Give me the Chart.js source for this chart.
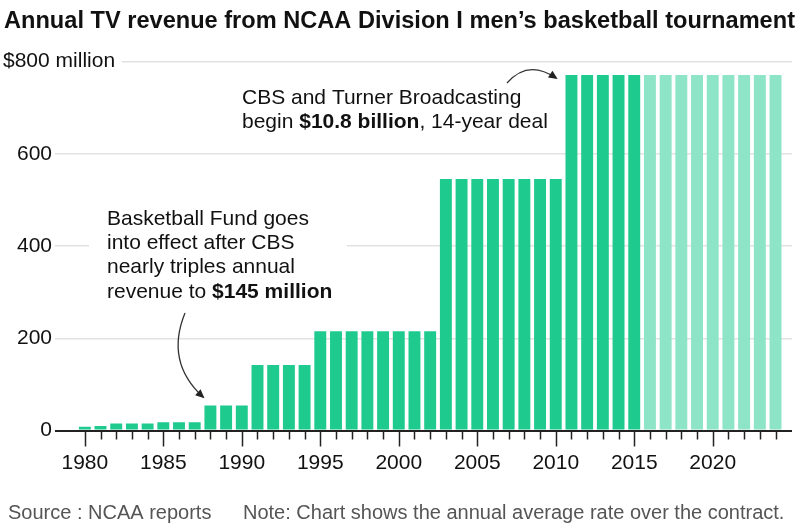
<!DOCTYPE html>
<html lang="en">
<head>
  <meta charset="UTF-8" />
  <title>Annual TV revenue from NCAA Division I men's basketball tournament</title>
  <script src="https://cdn.jsdelivr.net/npm/chart.js"></script>
  <style>
    html, body { margin: 0; padding: 0; background: #fff; }
    #wrap { position: relative; width: 800px; height: 532px; }
  </style>
</head>
<body>
  <div id="wrap"><canvas id="revenueChart"></canvas></div>

  <script>
    // data (millions of dollars per year, contract average)
    const years = [1980, 1981, 1982, 1983, 1984, 1985, 1986, 1987, 1988, 1989,
                   1990, 1991, 1992, 1993, 1994, 1995, 1996, 1997, 1998, 1999,
                   2000, 2001, 2002, 2003, 2004, 2005, 2006, 2007, 2008, 2009,
                   2010, 2011, 2012, 2013, 2014, 2015, 2016, 2017, 2018, 2019,
                   2020, 2021, 2022, 2023, 2024];
    const revenue = [8, 10, 15, 15, 15, 18, 18, 18, 54, 54,
                     54, 142, 142, 142, 142, 215, 215, 215, 215, 215,
                     215, 215, 215, 545, 545, 545, 545, 545, 545, 545,
                     545, 771, 771, 771, 771, 771, 771, 771, 771, 771,
                     771, 771, 771, 771, 771];
    const firstProjectedYear = 2016;
    const xTickLabels = [1980, 1985, 1990, 1995, 2000, 2005, 2010, 2015, 2020];
    const yTickValues = [0, 200, 400, 600, 800];

    const SOLID = '#1fca8f';
    const LIGHT = '#8ee4c6';
    const FONT = '"Liberation Sans", Arial, sans-serif';

    function drawRuns(ctx, runs, x, y, size) {
      runs.forEach(r => {
        ctx.font = (r.bold ? 'bold ' : '') + size + 'px ' + FONT;
        ctx.fillText(r.text, x, y);
        x += ctx.measureText(r.text).width;
      });
    }

    function arrow(ctx, p0, c, p2) {
      ctx.beginPath();
      ctx.moveTo(p0[0], p0[1]);
      ctx.quadraticCurveTo(c[0], c[1], p2[0], p2[1]);
      ctx.strokeStyle = '#333';
      ctx.lineWidth = 1.3;
      ctx.stroke();
      const ang = Math.atan2(p2[1] - c[1], p2[0] - c[0]);
      ctx.save();
      ctx.translate(p2[0], p2[1]);
      ctx.rotate(ang);
      ctx.beginPath();
      ctx.moveTo(2, 0);
      ctx.lineTo(-7, -4);
      ctx.lineTo(-7, 4);
      ctx.closePath();
      ctx.fillStyle = '#222';
      ctx.fill();
      ctx.restore();
    }

    const extras = {
      id: 'extras',
      afterDraw(chart) {
        const ctx = chart.ctx;
        const xs = chart.scales.x;
        const ys = chart.scales.y;
        const y0 = ys.getPixelForValue(0);
        ctx.save();

        // year tick marks under the axis
        ctx.strokeStyle = '#222';
        ctx.lineWidth = 1.5;
        years.forEach(yr => {
          const px = Math.round(xs.getPixelForValue(yr)) + 0.5;
          ctx.beginPath();
          ctx.moveTo(px, y0 + 1);
          ctx.lineTo(px, y0 + (yr % 5 === 0 ? 16 : 9));
          ctx.stroke();
        });

        // title, squeezed to the reference width
        const title = 'Annual TV revenue from NCAA Division I men\u2019s basketball tournament';
        ctx.fillStyle = '#111';
        ctx.textAlign = 'left';
        ctx.textBaseline = 'alphabetic';
        ctx.font = 'bold 23px "Liberation Sans Narrow", ' + FONT;
        const tw = ctx.measureText(title).width;
        ctx.save();
        ctx.translate(4, 28);
        ctx.scale(791 / tw, 1);
        ctx.fillText(title, 0, 0);
        ctx.restore();

        // top y label
        const y800 = ys.getPixelForValue(800);
        ctx.fillStyle = '#fff';
        ctx.fillRect(xs.left - 2, y800 - 3, 124 - xs.left, 6);
        ctx.fillStyle = '#111';
        ctx.font = '21px ' + FONT;
        ctx.textBaseline = 'middle';
        ctx.fillText('$800 million', 3, y800);
        ctx.textBaseline = 'alphabetic';

        // annotation: 2011 contract
        ctx.fillStyle = '#111';
        drawRuns(ctx, [{ text: 'CBS and Turner Broadcasting' }], 242, 104, 21);
        drawRuns(ctx, [{ text: 'begin ' }, { text: '$10.8 billion', bold: true },
                       { text: ', 14-year deal' }], 242, 128, 21);
        arrow(ctx, [507, 83], [528, 59], [556, 78]);

        // annotation: basketball fund
        ctx.fillStyle = '#fff';
        ctx.fillRect(89, 205, 258, 100);
        ctx.fillStyle = '#111';
        drawRuns(ctx, [{ text: 'Basketball Fund goes' }], 107, 225, 21);
        drawRuns(ctx, [{ text: 'into effect after CBS' }], 107, 249, 21);
        drawRuns(ctx, [{ text: 'nearly triples annual' }], 107, 273, 21);
        drawRuns(ctx, [{ text: 'revenue to ' }, { text: '$145 million', bold: true }], 107, 298, 21);
        arrow(ctx, [185, 313], [165, 362], [203, 397]);

        // footer
        ctx.fillStyle = '#555';
        ctx.font = '20px ' + FONT;
        ctx.fillText('Source : NCAA reports', 8, 519);
        ctx.fillText('Note: Chart shows the annual average rate over the contract.', 243, 519);

        ctx.restore();
      }
    };

    new Chart(document.getElementById('revenueChart'), {
      type: 'bar',
      data: {
        labels: years,
        datasets: [{
          data: revenue,
          backgroundColor: ctx => years[ctx.dataIndex] >= firstProjectedYear ? LIGHT : SOLID,
          borderWidth: 0,
          barPercentage: 0.76,
          categoryPercentage: 1.0
        }]
      },
      options: {
        responsive: true,
        maintainAspectRatio: false,
        animation: false,
        layout: { padding: { top: 61.5, right: 8, left: 0, bottom: 0 } },
        plugins: {
          legend: { display: false },
          tooltip: { enabled: false }
        },
        scales: {
          x: {
            type: 'linear',
            offset: false,
            min: 1978.1,
            max: 2025.05,
            grid: { display: false, drawTicks: false },
            border: { display: false },
            afterBuildTicks: s => { s.ticks = xTickLabels.map(v => ({ value: v })); },
            ticks: {
              callback: v => String(v),
              font: { family: FONT, size: 21 },
              color: '#111',
              padding: 20,
              maxRotation: 0,
              autoSkip: false
            },
            afterFit: s => { s.height = 101.5; }
          },
          y: {
            min: 0,
            max: 800,
            afterBuildTicks: s => { s.ticks = yTickValues.map(v => ({ value: v })); },
            ticks: {
              callback: v => (v === 800 ? '' : String(v)),
              font: { family: FONT, size: 21 },
              color: '#111',
              padding: 3
            },
            grid: {
              drawTicks: false,
              color: ctx => (ctx.tick && ctx.tick.value === 0 ? '#222' : '#e2e2e2'),
              lineWidth: ctx => (ctx.tick && ctx.tick.value === 0 ? 2 : 1.5)
            },
            border: { display: false },
            afterFit: s => { s.width = 55; }
          }
        }
      },
      plugins: [extras]
    });
  </script>
</body>
</html>
